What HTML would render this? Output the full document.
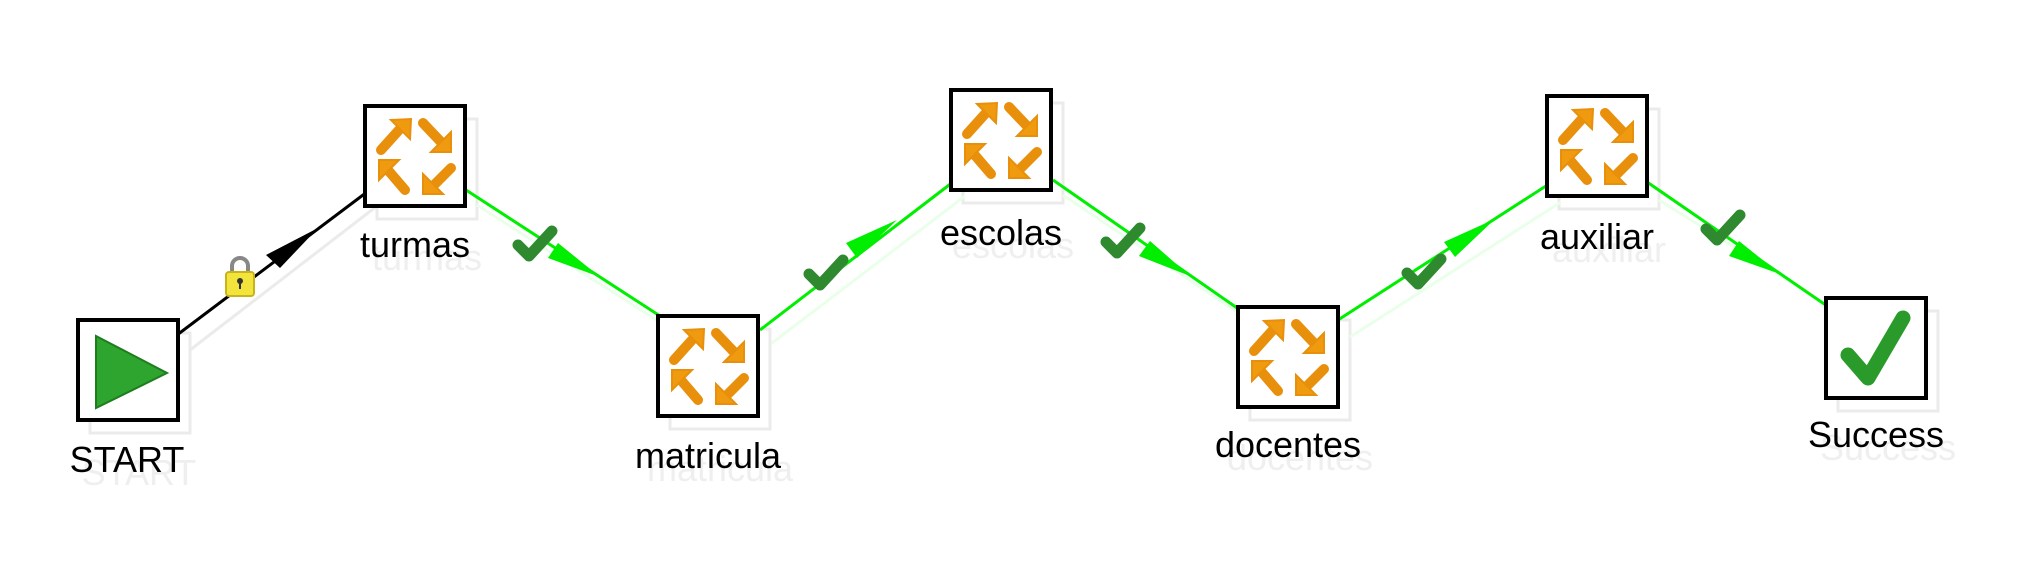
<!DOCTYPE html>
<html><head><meta charset="utf-8"><style>
html,body{margin:0;padding:0;background:#fff;width:2033px;height:562px;overflow:hidden}
svg{display:block}
text{font-family:"Liberation Sans",Arial,sans-serif;font-size:36px;text-anchor:middle}
</style></head><body>
<svg width="2033" height="562" viewBox="0 0 2033 562" xmlns="http://www.w3.org/2000/svg">
<defs>
<g id="job">
  <g fill="#f09a10" stroke="#e8900c" stroke-width="10" stroke-linecap="round">
    <line x1="16" y1="44" x2="34" y2="24"/>
    <polygon points="26,14 46,13 45,33" stroke-width="2"/>
    <line x1="58" y1="17" x2="76" y2="36"/>
    <polygon points="86,26 86,46 66,46" stroke-width="2"/>
    <line x1="86" y1="62" x2="68" y2="80"/>
    <polygon points="58,68 58,88 78,88" stroke-width="2"/>
    <line x1="40" y1="84" x2="22" y2="63"/>
    <polygon points="14,74 14,54 34,54" stroke-width="2"/>
  </g>
</g>
<g id="chk">
  <path d="M-17,2 L-6,13 L17,-12" fill="none" stroke="#2f8a2f" stroke-width="11" stroke-linecap="round" stroke-linejoin="round"/>
</g>
</defs>

<g fill="none" stroke="#ebebeb" stroke-width="3">
  <rect x="90" y="333" width="100" height="100"/>
  <rect x="377" y="119" width="100" height="100"/>
  <rect x="670" y="329" width="100" height="100"/>
  <rect x="963" y="103" width="100" height="100"/>
  <rect x="1250" y="320" width="100" height="100"/>
  <rect x="1559" y="109" width="100" height="100"/>
  <rect x="1838" y="311" width="100" height="100"/>
  <line x1="190" y1="350" x2="377" y2="206"/>
</g>
<g stroke="#eaffea" stroke-width="3" fill="none">
  <line x1="477" y1="205" x2="672" y2="330"/>
  <line x1="772" y1="343" x2="965" y2="196"/>
  <line x1="1063" y1="195" x2="1252" y2="322"/>
  <line x1="1350" y1="337" x2="1561" y2="202"/>
  <line x1="1659" y1="200" x2="1840" y2="313"/>
</g>
<g fill="#efefef">
  <text x="139" y="485">START</text>
  <text x="427" y="270">turmas</text>
  <text x="720" y="481">matricula</text>
  <text x="1013" y="258">escolas</text>
  <text x="1300" y="470">docentes</text>
  <text x="1609" y="262">auxiliar</text>
  <text x="1888" y="460">Success</text>
</g>

<line x1="177" y1="335" x2="367" y2="192" stroke="#000" stroke-width="3"/>
<polygon points="318,228 266,255 280,268" fill="#000"/>
<g stroke="#00ee00" stroke-width="3">
  <line x1="466" y1="190" x2="660" y2="316"/>
  <line x1="760" y1="330" x2="953" y2="182"/>
  <line x1="1053" y1="180" x2="1240" y2="310"/>
  <line x1="1338" y1="320" x2="1549" y2="184"/>
  <line x1="1647" y1="182" x2="1830" y2="308"/>
</g>
<g fill="#00ee00">
  <polygon points="600,277 548,258 558,243"/>
  <polygon points="897,220 846,243 857,258"/>
  <polygon points="1190,276 1139,256 1150,241"/>
  <polygon points="1495,219 1444,242 1455,257"/>
  <polygon points="1780,274 1729,256 1739,241"/>
</g>
<g>
  <path d="M232,272 v-6 a8,8 0 0 1 16,0 v6" fill="none" stroke="#888" stroke-width="4"/>
  <rect x="226" y="272" width="28" height="24" rx="3" fill="#f2e43a" stroke="#c9b21c" stroke-width="2"/>
  <circle cx="240" cy="281" r="3" fill="#333"/><rect x="239" y="281" width="2" height="8" fill="#333"/>
</g>
<use href="#chk" transform="translate(535,243)"/>
<use href="#chk" transform="translate(826,272)"/>
<use href="#chk" transform="translate(1123,240)"/>
<use href="#chk" transform="translate(1424,271)"/>
<use href="#chk" transform="translate(1723,227)"/>

<g fill="#fff" stroke="#000" stroke-width="4">
  <rect x="78" y="320" width="100" height="100"/>
  <rect x="365" y="106" width="100" height="100"/>
  <rect x="658" y="316" width="100" height="100"/>
  <rect x="951" y="90" width="100" height="100"/>
  <rect x="1238" y="307" width="100" height="100"/>
  <rect x="1547" y="96" width="100" height="100"/>
  <rect x="1826" y="298" width="100" height="100"/>
</g>
<polygon points="96,336 96,408 167,373" fill="#2ea52e" stroke="#1e7d1e" stroke-width="2"/>
<use href="#job" transform="translate(365,106)"/>
<use href="#job" transform="translate(658,316)"/>
<use href="#job" transform="translate(951,90)"/>
<use href="#job" transform="translate(1238,307)"/>
<use href="#job" transform="translate(1547,96)"/>
<path d="M1848,355 L1868,378 L1903,318" fill="none" stroke="#2a9a2a" stroke-width="15" stroke-linecap="round" stroke-linejoin="round"/>

<g fill="#000">
  <text x="127" y="472">START</text>
  <text x="415" y="257">turmas</text>
  <text x="708" y="468">matricula</text>
  <text x="1001" y="245">escolas</text>
  <text x="1288" y="457">docentes</text>
  <text x="1597" y="249">auxiliar</text>
  <text x="1876" y="447">Success</text>
</g>
</svg>
</body></html>
